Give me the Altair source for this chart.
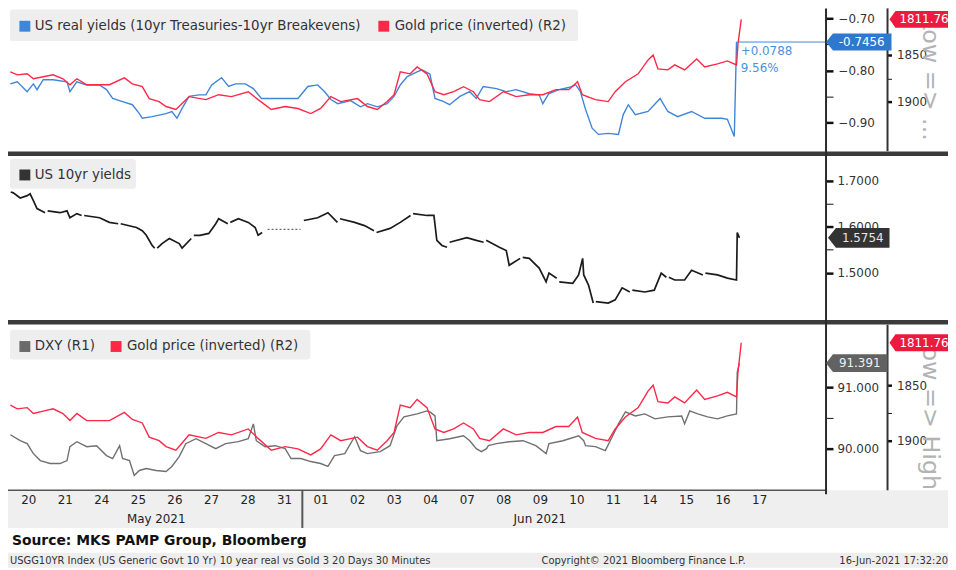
import altair as alt
import pandas as pd

FONT = "DejaVu Sans"

# ---------------- data ----------------
day_labels = ["20", "21", "24", "25", "26", "27", "28", "31", "01", "02", "03",
              "04", "07", "08", "09", "10", "11", "14", "15", "16", "17"]
months = ["May 2021", "Jun 2021"]
month_mid = [4.0, 14.5]
month_break = [8]

# US real yields (t in trading days since 20 May)
ry_t = [0.01, 0.20, 0.47, 0.64, 0.74, 0.91, 1.18, 1.56, 1.64, 1.83, 2.10, 2.45, 2.64, 2.81,
        3.08, 3.35, 3.54, 3.62, 3.89, 4.27, 4.43, 4.57, 4.71, 4.90, 5.17, 5.36, 5.52, 5.79,
        5.98, 6.17, 6.44, 6.66, 6.88, 7.88, 8.15, 8.42, 8.61, 8.78, 8.97, 9.32, 9.59, 9.78,
        10.05, 10.32, 10.51, 10.68, 10.87, 11.14, 11.27, 11.49, 11.63, 11.87, 12.03, 12.31,
        12.58, 12.76, 12.95, 13.31, 13.58, 13.85, 14.21, 14.48, 14.58, 14.74, 15.02, 15.29,
        15.48, 15.61, 15.74, 15.93, 16.10, 16.37, 16.65, 16.78, 16.92, 17.11, 17.46, 17.79,
        18.00, 18.27, 18.65, 19.01, 19.47, 19.63, 19.82, 19.88]
ry_v = [-0.826, -0.822, -0.841, -0.826, -0.837, -0.818, -0.818, -0.822, -0.841, -0.822,
        -0.828, -0.828, -0.837, -0.854, -0.860, -0.866, -0.883, -0.892, -0.889, -0.883,
        -0.879, -0.892, -0.873, -0.850, -0.847, -0.847, -0.828, -0.814, -0.831, -0.826,
        -0.826, -0.835, -0.854, -0.854, -0.831, -0.828, -0.841, -0.856, -0.864, -0.858,
        -0.870, -0.864, -0.870, -0.864, -0.850, -0.828, -0.812, -0.803, -0.799, -0.807,
        -0.854, -0.860, -0.866, -0.850, -0.841, -0.854, -0.831, -0.835, -0.841, -0.837,
        -0.845, -0.847, -0.864, -0.845, -0.837, -0.833, -0.828, -0.841, -0.873, -0.911,
        -0.923, -0.921, -0.923, -0.885, -0.866, -0.885, -0.879, -0.854, -0.879, -0.889,
        -0.879, -0.892, -0.892, -0.894, -0.927, -0.7456]
ry_change = ["+0.0788", "9.56%"]

# Gold price
gold_t = [0.01, 0.20, 0.47, 0.64, 0.91, 1.18, 1.45, 1.64, 1.83, 2.10, 2.37, 2.72, 3.13, 3.35,
          3.62, 3.81, 4.08, 4.27, 4.54, 4.71, 4.90, 5.36, 5.71, 6.06, 6.52, 6.79, 7.15, 7.53,
          7.88, 8.23, 8.50, 8.78, 9.05, 9.51, 9.78, 10.05, 10.32, 10.51, 10.68, 10.95, 11.14,
          11.41, 11.63, 11.87, 12.14, 12.41, 12.68, 12.85, 13.12, 13.50, 13.85, 14.21, 14.58,
          14.94, 15.29, 15.53, 15.66, 16.02, 16.37, 16.56, 16.84, 17.19, 17.46, 17.60, 17.73,
          18.00, 18.19, 18.46, 18.79, 19.01, 19.36, 19.63, 19.88, 19.92, 20.01]
gold_v = [1868.0, 1871.3, 1870.2, 1875.5, 1873.4, 1871.3, 1875.5, 1881.9, 1875.5, 1881.9,
          1881.9, 1881.9, 1874.5, 1880.9, 1884.0, 1896.8, 1900.0, 1905.3, 1908.5, 1902.1,
          1894.7, 1897.9, 1892.6, 1894.7, 1889.4, 1897.9, 1908.5, 1905.3, 1907.4, 1912.8,
          1907.4, 1894.7, 1900.0, 1896.8, 1905.3, 1908.5, 1900.0, 1892.6, 1868.0, 1870.2,
          1862.8, 1870.2, 1889.4, 1892.6, 1889.4, 1884.0, 1889.4, 1897.9, 1900.0, 1889.4,
          1894.7, 1892.6, 1892.6, 1887.2, 1887.2, 1878.7, 1892.6, 1897.9, 1900.0, 1889.4,
          1878.7, 1870.2, 1855.3, 1850.0, 1864.9, 1866.0, 1860.6, 1866.0, 1854.3, 1862.8,
          1859.6, 1856.4, 1860.6, 1838.3, 1811.76]

# US 10yr yields
y10_t = [0.02, 0.09, 0.28, 0.47, 0.55, 0.64, 0.74, 0.96,
         1.03, 1.37, 1.56, 1.64, 1.83, 1.96,
         2.03, 2.45, 2.72, 2.96,
         3.03, 3.46, 3.62, 3.73, 3.89, 3.96,
         4.03, 4.16, 4.36, 4.63, 4.71, 4.96,
         5.03, 5.20, 5.44, 5.63, 5.71, 5.96,
         6.03, 6.25, 6.52, 6.71, 6.79, 6.90,
         8.04, 8.42, 8.70, 8.96,
         9.03, 9.43, 9.70, 9.96,
         10.03, 10.40, 10.68, 10.96,
         11.03, 11.41, 11.60, 11.68, 11.82, 11.96,
         12.03, 12.50, 12.76, 12.96,
         13.03, 13.39, 13.58, 13.66, 13.96,
         14.03, 14.21, 14.48, 14.67, 14.75, 14.96,
         15.03, 15.40, 15.56, 15.67, 15.70, 15.83, 15.96,
         16.03, 16.37, 16.56, 16.75, 16.96,
         17.03, 17.37, 17.63, 17.82, 17.96,
         18.03, 18.19, 18.46, 18.65, 18.96,
         19.03, 19.36, 19.63, 19.88, 19.90, 19.96]
y10_v = [1.675, 1.673, 1.662, 1.667, 1.671, 1.656, 1.639, 1.630,
         1.634, 1.630, 1.634, 1.619, 1.628, 1.624,
         1.624, 1.619, 1.609, 1.606,
         1.606, 1.598, 1.591, 1.581, 1.559, 1.553,
         1.553, 1.563, 1.574, 1.563, 1.553, 1.574,
         1.581, 1.581, 1.585, 1.606, 1.617, 1.606,
         1.609, 1.617, 1.609, 1.598, 1.581, 1.587,
         1.613, 1.619, 1.630, 1.609,
         1.617, 1.609, 1.602, 1.591,
         1.587, 1.596, 1.609, 1.624,
         1.628, 1.624, 1.624, 1.570, 1.559, 1.555,
         1.566, 1.576, 1.570, 1.566,
         1.570, 1.555, 1.548, 1.516, 1.531,
         1.533, 1.531, 1.510, 1.480, 1.499, 1.488,
         1.480, 1.477, 1.495, 1.531, 1.495, 1.473, 1.434,
         1.437, 1.434, 1.441, 1.467, 1.458,
         1.462, 1.458, 1.462, 1.499, 1.490,
         1.490, 1.484, 1.484, 1.505, 1.495,
         1.499, 1.495, 1.488, 1.484, 1.587, 1.5754]
y10_gap_t = [7.05, 7.95]
y10_gap_v = [1.594, 1.594]

# DXY
dxy_t = [0.01, 0.28, 0.47, 0.64, 0.83, 1.10, 1.37, 1.56, 1.64, 1.83, 2.10, 2.37, 2.64, 2.81,
         3.00, 3.08, 3.27, 3.40, 3.54, 3.73, 4.00, 4.27, 4.43, 4.63, 4.81, 5.09, 5.36, 5.63,
         5.90, 6.25, 6.52, 6.66, 6.74, 6.98, 7.26, 7.53, 7.69, 7.96, 8.23, 8.50, 8.70, 8.88,
         9.16, 9.43, 9.59, 9.78, 10.13, 10.40, 10.59, 10.78, 11.14, 11.41, 11.49, 11.63,
         11.68, 12.03, 12.41, 12.58, 12.76, 12.90, 13.04, 13.09, 13.31, 13.66, 14.04, 14.39,
         14.67, 14.75, 15.13, 15.56, 15.70, 15.75, 16.02, 16.29, 16.48, 16.65, 16.84, 17.11,
         17.37, 17.65, 18.00, 18.38, 18.46, 18.60, 18.82, 19.09, 19.36, 19.63, 19.88, 19.90,
         19.96]
dxy_v = [90.226, 90.129, 90.081, 89.919, 89.806, 89.758, 89.758, 89.806, 90.032, 90.113,
         90.032, 90.048, 89.887, 89.839, 90.048, 89.839, 89.806, 89.565, 89.645, 89.677,
         89.645, 89.629, 89.710, 89.871, 90.081, 90.161, 90.081, 90.000, 90.081, 90.113,
         90.161, 90.403, 90.129, 90.032, 90.048, 90.000, 89.839, 89.839, 89.790, 89.758,
         89.710, 89.887, 89.919, 90.194, 89.968, 89.919, 89.952, 90.048, 90.371, 90.516,
         90.565, 90.613, 90.597, 90.532, 90.129, 90.161, 90.210, 90.129, 90.000, 89.952,
         90.000, 90.048, 90.081, 90.113, 90.129, 90.048, 89.919, 90.081, 90.129, 90.210,
         90.129, 90.048, 90.032, 89.968, 90.194, 90.403, 90.597, 90.532, 90.565, 90.484,
         90.516, 90.532, 90.403, 90.613, 90.565, 90.516, 90.484, 90.532, 90.565, 91.242,
         91.391]

legend_top = ["US real yields (10yr Treasuries-10yr Breakevens)", "Gold price (inverted) (R2)"]
legend_mid = ["US 10yr yields"]
legend_bot = ["DXY (R1)", "Gold price (inverted) (R2)"]
low_high = ["Low => ...", "Low => High"]
source = "Source: MKS PAMP Group, Bloomberg"
footer = ["USGG10YR Index (US Generic Govt 10 Yr) 10 year real vs Gold 3 20 Days 30 Minutes",
          "Copyright\u00a9 2021 Bloomberg Finance L.P.", "16-Jun-2021 17:32:20"]

# ---------------- styling ----------------
W, H = 823, 484
BLUE = "#3f86d8"
RED = "#ff2748"
BLACK = "#1b1b1b"
GREY = "#707070"

df_ry = pd.DataFrame({"t": ry_t, "v": ry_v})
df_gold = pd.DataFrame({"t": gold_t, "v": gold_v})
df_y10 = pd.DataFrame({"t": y10_t, "v": y10_v})
df_gap = pd.DataFrame({"t": y10_gap_t, "v": y10_gap_v})
df_dxy = pd.DataFrame({"t": dxy_t, "v": dxy_v})
one = pd.DataFrame({"k": [0]})

xs = alt.Scale(domain=[0, 22.33], nice=False, zero=False)
label_arr = "[" + ",".join("'%s'" % d for d in day_labels) + "]"
xaxis = alt.Axis(values=[i + 0.5 for i in range(len(day_labels))],
                 labelExpr=label_arr + "[floor(datum.value)]",
                 title=None, domain=False, ticks=False, tickSize=0, grid=False,
                 labelPadding=4, labelFontSize=12, labelColor="#222222", labelFont=FONT,
                 labelOverlap=False, labelFlush=False, zindex=2)
X = alt.X("t:Q", scale=xs, axis=xaxis)

ry_scale = alt.Scale(domain=[-0.90, -0.70], range=[113, 8], nice=False, zero=False)
g1_scale = alt.Scale(domain=[1850, 1900], range=[45, 92], nice=False, zero=False)
y10_scale = alt.Scale(domain=[1.5, 1.7], range=[264.5, 171.5], nice=False, zero=False)
dx_scale = alt.Scale(domain=[90, 91], range=[442, 380], nice=False, zero=False)
g2_scale = alt.Scale(domain=[1850, 1900], range=[378, 434], nice=False, zero=False)


def yaxis(values, test, fmt, offset, tick, pad):
    return alt.Axis(orient="right", offset=offset, values=values, format=fmt,
                    labelExpr="(%s) ? datum.label : ''" % test, title=None,
                    domain=False, grid=False, tickSize=tick, tickColor="#111111",
                    tickWidth={"condition": {"test": test, "value": 2.5}, "value": 1},
                    labelPadding=pad, labelFontSize=12, labelColor="#333333",
                    labelFont=FONT, labelOverlap=False, labelFlush=False, labelBound=False)


ry_axis = yaxis([-0.95, -0.9, -0.85, -0.8, -0.75, -0.7],
                "abs(round(datum.value*100)) % 10 == 0", ".2f", 0, 7, 5)
g1_axis = yaxis([1825, 1850, 1875, 1900, 1925, 1950], "datum.value % 50 == 0", "d", 62, 4, 5)
y10_axis = yaxis([1.40, 1.45, 1.50, 1.55, 1.60, 1.65, 1.70, 1.75],
                 "round(datum.value*100) % 10 == 0", ".4f", 0, 7, 4)
dx_axis = yaxis([89.5, 90.0, 90.5, 91.0, 91.5], "round(datum.value*10) % 10 == 0", ".3f", 0, 7, 4)
g2_axis = yaxis([1800, 1825, 1850, 1875, 1900, 1925], "datum.value % 50 == 0", "d", 62, 4, 5)


def box(x1, x2, y1, y2, color, r=0):
    return alt.Chart(one).mark_rect(color=color, cornerRadius=r).encode(
        x=alt.value(x1), x2=alt.value(x2), y=alt.value(y1), y2=alt.value(y2))


def vrule(x, y1, y2, color, w):
    return alt.Chart(one).mark_rule(color=color, strokeWidth=w).encode(
        x=alt.value(x), y=alt.value(y1), y2=alt.value(y2))


def hrule(y, x1, x2, color, w):
    return alt.Chart(one).mark_rule(color=color, strokeWidth=w).encode(
        y=alt.value(y), x=alt.value(x1), x2=alt.value(x2))


def label(x, y, s, **kw):
    opts = dict(align="left", baseline="middle", font=FONT, fontSize=12, color="#222222")
    opts.update(kw)
    return alt.Chart(one).mark_text(**opts).encode(x=alt.value(x), y=alt.value(y), text=alt.value(s))


def square(x, y, color):
    return alt.Chart(one).mark_square(size=121, color=color, opacity=1).encode(
        x=alt.value(x), y=alt.value(y))


def tag(value, txt, scale, x, path, fill, tx, tcolor, align):
    d = pd.DataFrame({"v": [value], "label": [txt]})
    base = alt.Chart(d).encode(y=alt.Y("v:Q", scale=scale, axis=None))
    shp = base.mark_point(shape=path, size=4, filled=True, fill=fill, strokeWidth=0,
                          opacity=1).encode(x=alt.value(x))
    tt = base.mark_text(align=align, baseline="middle", font=FONT, fontSize=12,
                        color=tcolor).encode(x=alt.value(tx), text="label:N")
    return [shp, tt]


layers = []
# backgrounds
layers += [box(-2, 946, 484, 522, "#efefef"), box(-2, 946, 547, 562, "#eeeeee"),
           box(0, 573, -1, 31, "#eeeeee", 3), box(0, 127, 150, 180, "#eeeeee", 3),
           box(0, 303, 322, 352, "#eeeeee", 3)]

# series
layers.append(alt.Chart(df_ry).mark_line(color=BLUE, strokeWidth=1.4).encode(
    x=X, y=alt.Y("v:Q", scale=ry_scale, axis=ry_axis)))
layers.append(alt.Chart(df_gold).mark_line(color=RED, strokeWidth=1.4).encode(
    x=X, y=alt.Y("v:Q", scale=g1_scale, axis=g1_axis)))
layers.append(alt.Chart(df_y10).transform_calculate(seg="floor(datum.t)").mark_line(
    color=BLACK, strokeWidth=1.7).encode(
    x=X, y=alt.Y("v:Q", scale=y10_scale, axis=y10_axis), detail="seg:O"))
layers.append(alt.Chart(df_gap).mark_line(color="#444444", strokeWidth=1, strokeDash=[2, 2]).encode(
    x=X, y=alt.Y("v:Q", scale=y10_scale, axis=None)))
layers.append(alt.Chart(df_dxy).mark_line(color=GREY, strokeWidth=1.4).encode(
    x=X, y=alt.Y("v:Q", scale=dx_scale, axis=dx_axis)))
layers.append(alt.Chart(df_gold).mark_line(color=RED, strokeWidth=1.4).encode(
    x=X, y=alt.Y("v:Q", scale=g2_scale, axis=g2_axis)))

# last-value line for real yields
layers.append(alt.Chart(pd.DataFrame({"t": [ry_t[-1]], "v": [ry_v[-1]]})).mark_rule(
    color=BLUE, strokeWidth=1).encode(x=X, x2=alt.value(W), y=alt.Y("v:Q", scale=ry_scale, axis=None)))

# frame / separators
layers += [hrule(144.5, -2, 946, "#3b3b3b", 4.5), hrule(314.5, -2, 946, "#3b3b3b", 4.5),
           hrule(484, -2, W, "#555555", 1.5),
           vrule(W, -2, 488, "#2a2a2a", 2), vrule(885, -2, 142, "#333333", 2),
           vrule(885, 317, 484, "#333333", 2)]
layers.append(alt.Chart(pd.DataFrame({"t": month_break})).mark_rule(color="#555555", strokeWidth=2).encode(
    x=X, y=alt.value(484), y2=alt.value(522)))
layers.append(alt.Chart(pd.DataFrame({"t": month_mid, "m": months})).mark_text(
    font=FONT, fontSize=12, color="#222222", baseline="middle").encode(
    x=X, y=alt.value(513), text="m:N"))

# legends
layers += [square(15, 16, BLUE), label(25, 16, legend_top[0], fontSize=13.5, color="#333333"),
           square(377, 16, RED), label(388, 16, legend_top[1], fontSize=13.5, color="#333333"),
           square(15, 166, "#333333"), label(25, 166, legend_mid[0], fontSize=13.5, color="#333333"),
           square(15, 339, "#6a6a6a"), label(25, 339, legend_bot[0], fontSize=13.5, color="#333333"),
           square(107, 339, RED), label(118, 339, legend_bot[1], fontSize=13.5, color="#333333")]

# change annotation
layers += [label(737, 41, ry_change[0], color="#4a90dc", fontSize=12),
           label(737, 58, ry_change[1], color="#4a90dc", fontSize=12)]

# source & footer
layers += [label(2, 535, source, fontWeight="bold", fontSize=14, color="#111111"),
           label(0, 555, footer[0], fontSize=10, color="#333333"),
           label(536, 555, footer[1], fontSize=10, color="#333333"),
           label(946, 555, footer[2], fontSize=10, color="#333333", align="right")]

# rotated hints
layers += [label(928, 6, low_high[0], angle=90, fontSize=24, color="#b3b3b3"),
           label(928, 326, low_high[1], angle=90, fontSize=24, color="#b3b3b3")]

# value tags
p_short = "M0,0L7,-8.5L66,-8.5L66,8.5L7,8.5Z"
p_long = "M0,0L6,-8.5L75,-8.5L75,8.5L6,8.5Z"
p_mid = "M0,0L8,-10L62,-10L62,10L8,10Z"
p_dxy = "M0,0L7,-9L62,-9L62,9L7,9Z"
layers += tag(ry_v[-1], "%.4f" % ry_v[-1], ry_scale, W, p_short, "#2f78cf", 859, "white", "center")
layers += tag(gold_v[-1], "%.2f" % gold_v[-1], g1_scale, 887, p_long, "#ec1a3e", 897, "white", "left")
layers += tag(y10_v[-1], "%.4f" % y10_v[-1], y10_scale, 825, p_mid, "#333333", 860, "#e6e6e6", "center")
layers += tag(dxy_v[-1], "%.3f" % dxy_v[-1], dx_scale, W, p_dxy, "#626262", 857, "#f0f0f0", "center")
layers += tag(gold_v[-1], "%.2f" % gold_v[-1], g2_scale, 887, p_long, "#ec1a3e", 897, "white", "left")

chart = alt.layer(*layers).resolve_scale(y="independent").properties(
    width=W, height=H,
    padding={"left": 2, "top": 0, "right": 123, "bottom": 78},
    autosize=alt.AutoSizeParams(type="none"),
    background="white",
).configure_view(stroke=None)

chart.save("out.html", embed_options={"renderer": "svg", "actions": False})
